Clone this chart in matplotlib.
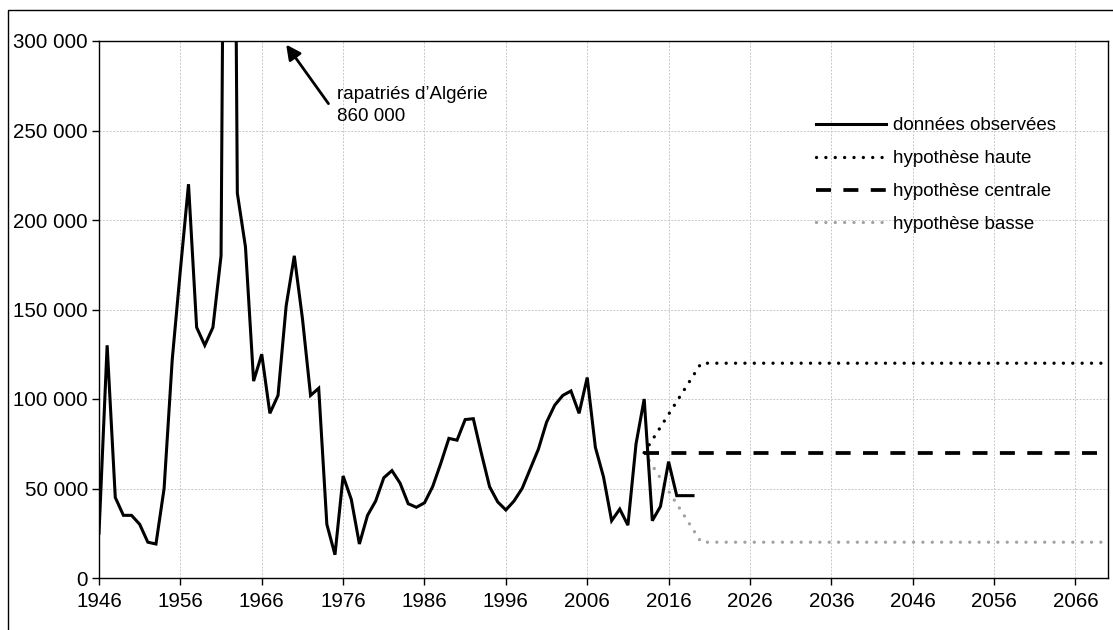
import matplotlib
matplotlib.use("Agg")
import matplotlib.pyplot as plt
from matplotlib.patches import Rectangle
from matplotlib.ticker import FuncFormatter

plt.rcParams['font.family'] = ['Liberation Sans', 'DejaVu Sans']

# Observed net migration (données observées)
obs_years = list(range(1946, 2020))
obs_values = [
    25000, 130000, 45000, 35000, 35000, 30000, 20000, 19000, 50000, 122000,  # 1946-1955
    172000, 220000, 140000, 130000, 140000, 180000, 860000, 215000, 185000, 110000,  # 1956-1965
    125000, 92000, 102000, 152000, 180000, 145000, 102000, 106000, 30000, 13000,  # 1966-1975
    57000, 44000, 19000, 35000, 43000, 56000, 60000, 53000, 41500, 39500,  # 1976-1985
    42000, 51000, 64000, 78000, 77000, 88500, 89000, 69500, 51000, 42500,  # 1986-1995
    38000, 43000, 50000, 61000, 72000, 87000, 96500, 102000, 104500, 92000,  # 1996-2005
    112000, 73000, 56500, 32000, 38500, 29500, 75000, 100000, 32000, 40000,  # 2006-2015
    65000, 46000, 46000, 46000,  # 2016-2019
]

# Projection hypotheses
high_years = [2013, 2020, 2070]
high_values = [70000, 120000, 120000]
central_years = [2013, 2070]
central_values = [70000, 70000]
low_years = [2013, 2020, 2070]
low_values = [70000, 20000, 20000]

x_ticks = list(range(1946, 2067, 10))
y_ticks = list(range(0, 300001, 50000))

labels = ["données observées", "hypothèse haute", "hypothèse centrale", "hypothèse basse"]

fig = plt.figure(figsize=(11.13, 6.30), dpi=100)
ax = fig.add_axes([99/1113, 1 - 578/630, (1108 - 99)/1113, (578 - 41)/630])

ax.plot(obs_years, obs_values, color='black', lw=2.2, solid_joinstyle='miter',
        label=labels[0], zorder=5)
ax.plot(high_years, high_values, color='black', lw=2.4, linestyle=(0, (0.01, 2.8)),
        dash_capstyle='round', label=labels[1], zorder=4)
ax.plot(central_years, central_values, color='black', lw=2.7, linestyle=(0, (4.0, 3.3)),
        dash_capstyle='butt', label=labels[2], zorder=4)
ax.plot(low_years, low_values, color='#a3a3a3', lw=2.4, linestyle=(0, (0.01, 2.8)),
        dash_capstyle='round', label=labels[3], zorder=3)

ax.set_xlim(1946, 2070)
ax.set_ylim(0, 300000)
ax.set_xticks(x_ticks)
ax.set_yticks(y_ticks)
ax.yaxis.set_major_formatter(FuncFormatter(lambda v, p: f"{int(v):,}".replace(",", " ")))

ax.grid(True, color='#c8c8c8', linestyle=(0, (2.0, 1.5)), lw=0.7)
ax.set_axisbelow(True)
for s in ax.spines.values():
    s.set_color('black')
    s.set_linewidth(1.0)
ax.tick_params(axis='both', direction='out', length=5, width=1.0, color='black',
               labelsize=14.8, labelcolor='black')
ax.tick_params(axis='y', pad=3)
ax.tick_params(axis='x', pad=5)

leg = ax.legend(loc='upper left', bbox_to_anchor=(0.711, 0.858), frameon=False,
                fontsize=13.5, handlelength=3.7, handletextpad=0.4, labelspacing=0.84,
                borderpad=0, borderaxespad=0)

# Annotation for the 1962 peak
ax.annotate('', xy=(1969.0, 298000), xytext=(1974.2, 265000),
            arrowprops=dict(arrowstyle='-|>', color='black', lw=2.0,
                            mutation_scale=22, shrinkA=0, shrinkB=0))
ax.text(1975.2, 275000, "rapatriés d’Algérie\n860 000", fontsize=13.5, ha='left', va='top',
        linespacing=1.4)

# Outer frame
fig.add_artist(Rectangle((8/1113, -0.2), 1.2, 1 - 10/630 + 0.2, transform=fig.transFigure,
                         fill=False, edgecolor='black', lw=1.0))

fig.savefig('out.png', dpi=100)
